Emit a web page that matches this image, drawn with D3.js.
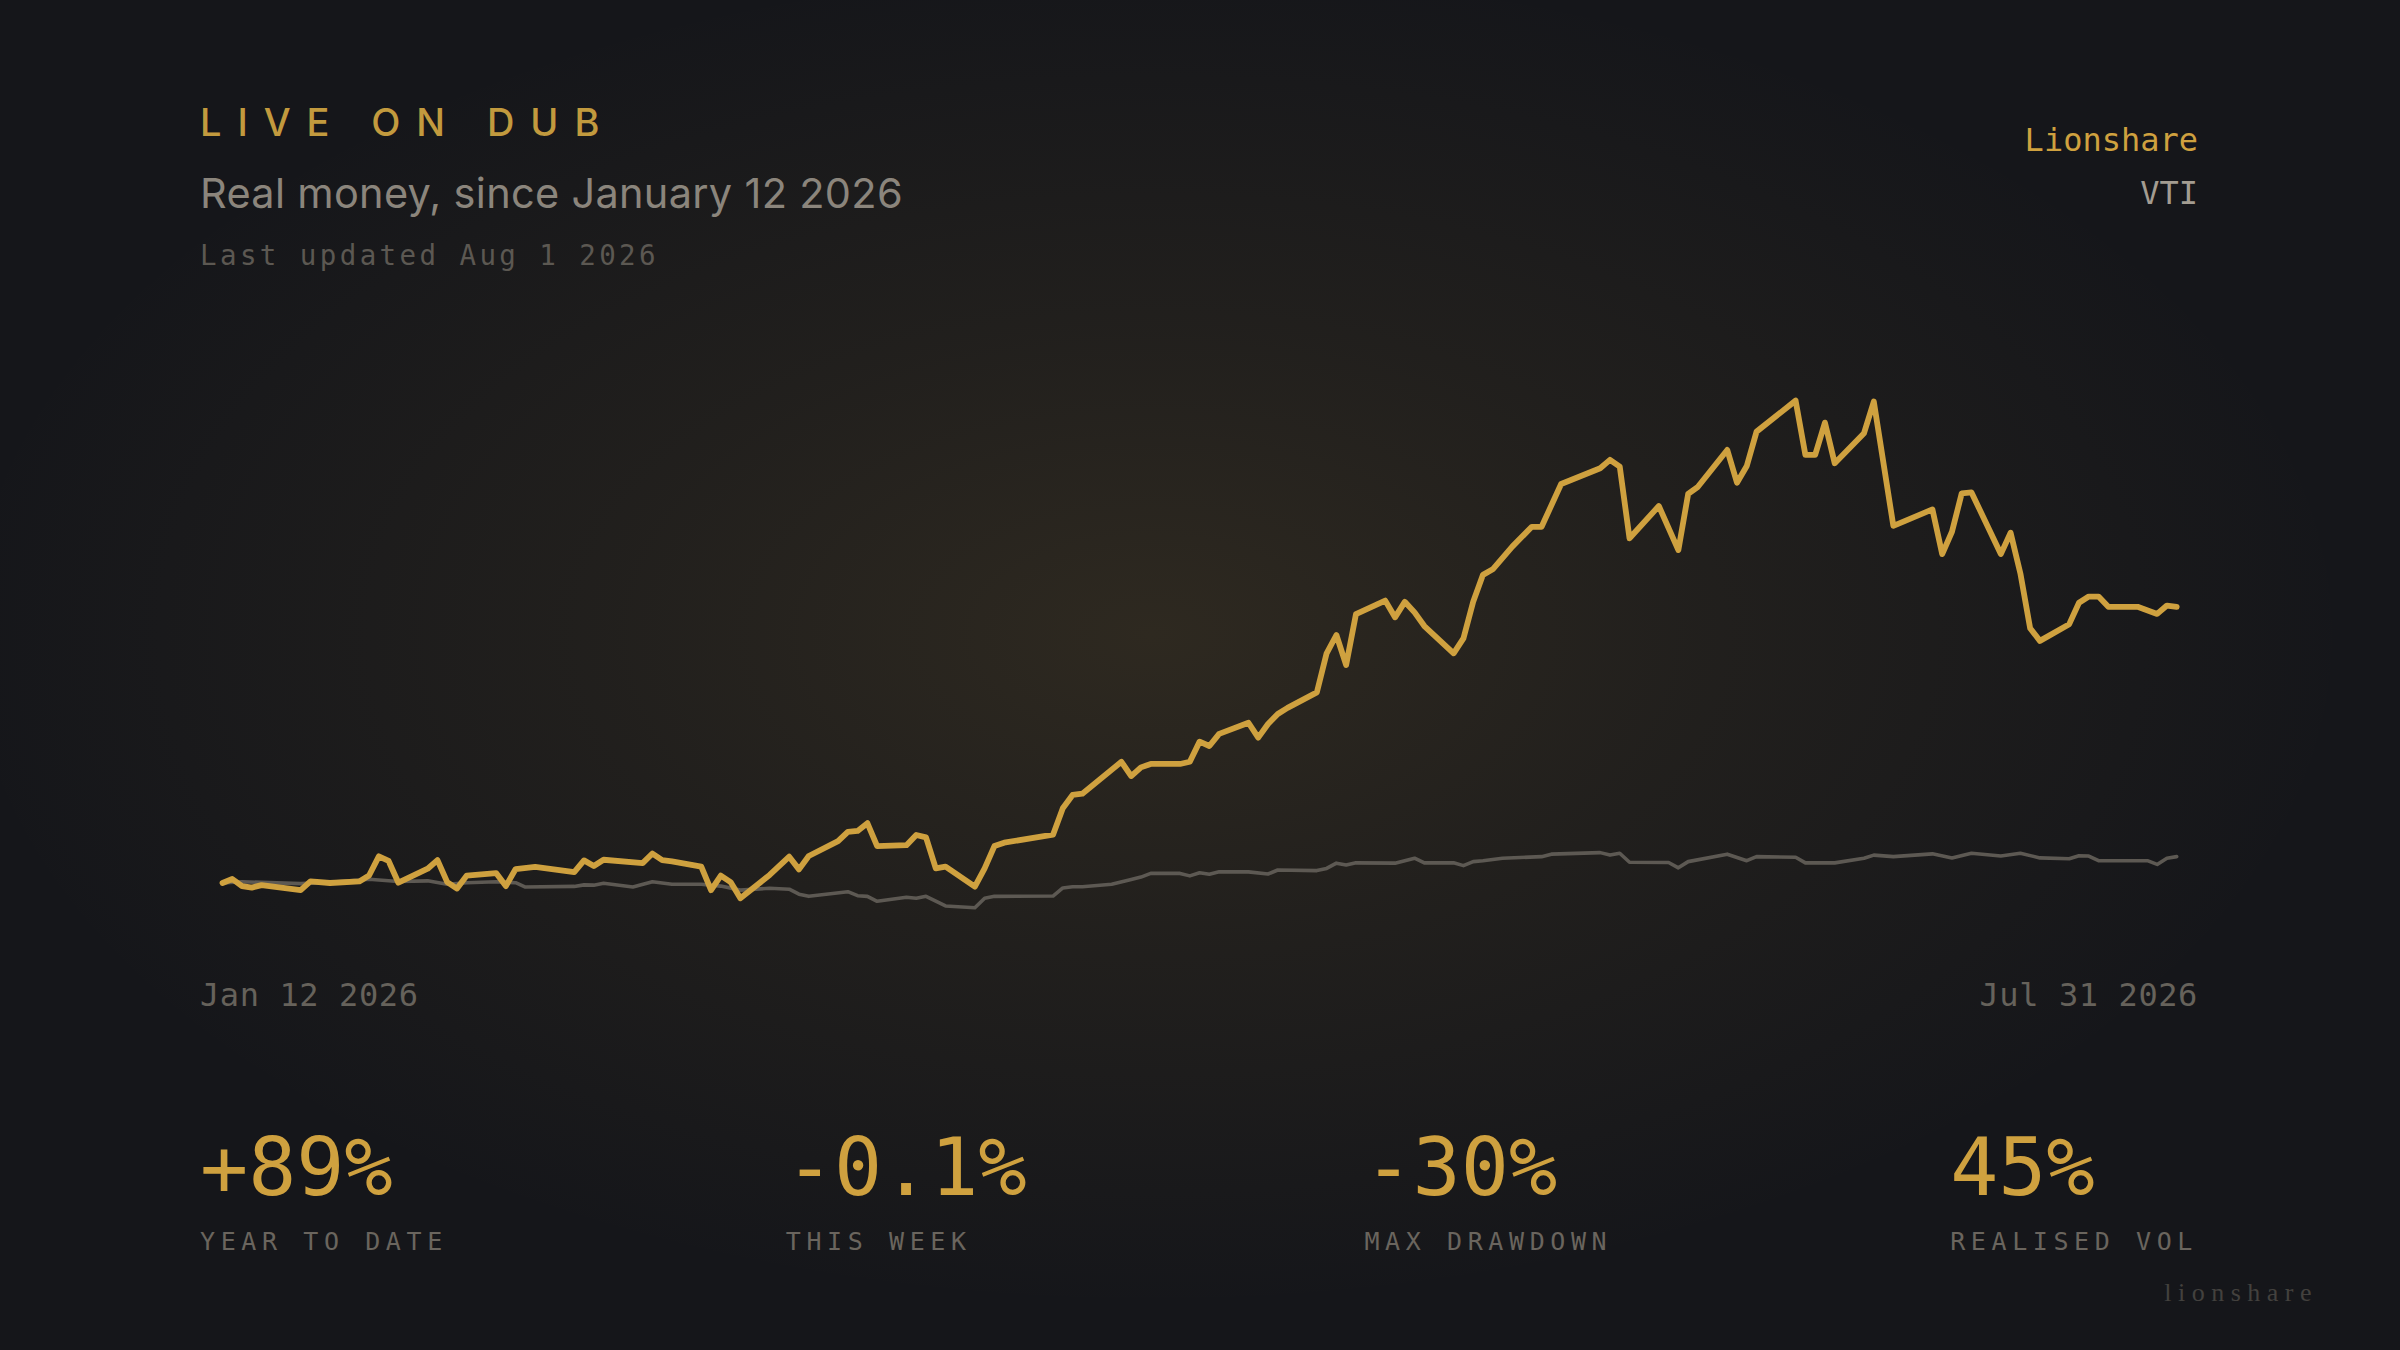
<!DOCTYPE html>
<html>
<head>
<meta charset="utf-8">
<script src="https://cdn.jsdelivr.net/npm/d3@7"></script>
<style>
  html, body { margin: 0; padding: 0; background: #15161a; }
  svg { display: block; }
</style>
</head>
<body>
<svg id="chart" width="2400" height="1350"></svg>
<script>
// ---------- DATA ----------
// [days since Jan 12 2026, cumulative return %]
const lionshare = [[0,0],[1,1.3],[2,-1.0],[3,-1.5],[4,-0.7],[8,-2.3],[9,0.5],[11,0],[14,0.5],[15,2.4],[16,8.6],[17,7.1],[18,0.1],[21,4.6],[22,7.4],[23,0.3],[24,-1.8],[25,2.4],[28,3.2],[29,-1.0],[30,4.5],[32,5.2],[36,3.5],[37,7.3],[38,5.5],[39,7.5],[43,6.4],[44,9.5],[45,7.4],[46,7.0],[49,5.3],[50,-2.3],[51,2.4],[52,0.3],[53,-4.9],[56,2.6],[58,8.5],[59,4.4],[60,8.7],[63,13.5],[64,16.5],[65,16.8],[66,19.3],[67,11.9],[70,12.2],[71,15.5],[72,14.7],[73,4.7],[74,5.3],[77,-1.2],[78,4.7],[79,11.9],[80,13.0],[85,15.6],[86,24.1],[87,28.4],[88,28.8],[92,39.1],[93,34.5],[94,37.3],[95,38.4],[98,38.4],[99,39.1],[100,45.6],[101,44.2],[102,48.1],[105,51.7],[106,46.9],[107,51.3],[108,54.5],[109,56.5],[112,61.5],[113,74.1],[114,80.0],[115,70.3],[116,86.7],[119,91.1],[120,85.7],[121,90.7],[122,87.3],[123,82.9],[126,74.1],[127,78.9],[128,90.7],[129,99.4],[130,101.2],[132,108.5],[134,114.9],[135,114.9],[137,128.7],[141,133.8],[142,136.5],[143,134.3],[144,111.2],[147,121.6],[149,107.4],[150,125.5],[151,127.8],[154,139.7],[155,129.1],[156,134.5],[157,145.6],[161,155.6],[162,138.1],[163,138.1],[164,148.5],[165,135.4],[168,145.1],[169,155.3],[171,115.2],[175,120.5],[176,106.1],[177,113.3],[178,125.7],[179,126.0],[182,106.1],[183,113.0],[184,99.9],[185,82.2],[186,78.1],[189,83.5],[190,90.4],[191,92.4],[192,92.4],[193,89.1],[196,89.1],[198,86.8],[199,89.5],[200,89.1]];

const vti = [[0,0],[2,0.4],[4,0.2],[8,-0.2],[11,0.2],[15,1.2],[18,0.5],[21,0.7],[23,-0.4],[25,0.1],[28,0.4],[30,0.1],[31,-1.3],[36,-1.1],[37,-0.6],[38,-0.7],[39,-0.1],[42,-1.3],[44,0.4],[46,-0.4],[49,-0.4],[51,-1.0],[53,-2.3],[56,-1.7],[58,-2.0],[59,-3.6],[60,-4.3],[64,-2.8],[65,-4.1],[66,-4.3],[67,-5.9],[70,-4.6],[71,-4.9],[72,-4.3],[74,-7.4],[77,-8.0],[78,-4.9],[79,-4.3],[85,-4.2],[86,-1.6],[87,-1.2],[88,-1.2],[91,-0.4],[93,1.1],[94,1.9],[95,3.1],[98,3.1],[99,2.3],[100,3.3],[101,2.8],[102,3.6],[105,3.6],[107,2.9],[108,4.2],[112,4.0],[113,4.7],[114,6.4],[115,5.8],[116,6.5],[120,6.4],[121,7.2],[122,8.0],[123,6.5],[126,6.5],[127,5.6],[128,6.9],[129,7.2],[131,8.0],[135,8.5],[136,9.3],[141,9.8],[142,9.0],[143,9.6],[144,6.7],[148,6.6],[149,4.9],[150,6.9],[154,9.3],[156,7.2],[157,8.5],[161,8.3],[162,6.5],[165,6.5],[168,8.0],[169,9.0],[171,8.5],[175,9.4],[177,8.1],[179,9.6],[182,8.7],[184,9.6],[186,8.1],[189,7.8],[190,8.8],[191,8.7],[192,7.2],[197,7.2],[198,6.0],[199,8.0],[200,8.5]];

const startDate = Date.UTC(2026, 0, 12);
const endDate = Date.UTC(2026, 6, 31);
const seriesNames = ["Lionshare", "VTI"];
const statValues = ["+89%", "-0.1%", "-30%", "45%"];
const statLabels = ["YEAR TO DATE", "THIS WEEK", "MAX DRAWDOWN", "REALISED VOL"];
const kicker = "LIVE ON DUB";
const title = "Real money, since January 12 2026";
const updated = "Last updated Aug 1 2026";
const watermark = "lionshare";

// ---------- STYLE ----------
const W = 2400, H = 1350;
const GOLD = "#cfa13f";
const MONO = "'DejaVu Sans Mono', 'Liberation Mono', monospace";
const SANS = "Inter, 'Noto Sans', sans-serif";
const left = 200, right = 2198;

const svg = d3.select("#chart").attr("viewBox", `0 0 ${W} ${H}`);
const defs = svg.append("defs");
const glow = defs.append("radialGradient").attr("id", "glow")
  .attr("cx", 0.48).attr("cy", 0.47).attr("r", 0.5);
glow.append("stop").attr("offset", "0%").attr("stop-color", "rgb(200,158,70)").attr("stop-opacity", 0.14);
glow.append("stop").attr("offset", "45%").attr("stop-color", "rgb(200,158,70)").attr("stop-opacity", 0.07);
glow.append("stop").attr("offset", "100%").attr("stop-color", "rgb(200,158,70)").attr("stop-opacity", 0);

svg.append("rect").attr("width", W).attr("height", H).attr("fill", "#15161a");
svg.append("rect").attr("width", W).attr("height", H).attr("fill", "url(#glow)");

// ---------- SCALES ----------
const x = d3.scaleUtc().domain([startDate, endDate]).range([222.5, 2176.7]);
const y = d3.scaleLinear().domain([-10, 160]).range([914, 387]);
const toDate = d => new Date(startDate + d * 86400000);

const line = d3.line()
  .x(d => x(toDate(d[0])))
  .y(d => y(d[1]));

svg.append("path").datum(vti)
  .attr("d", line).attr("fill", "none")
  .attr("stroke", "#5d5953").attr("stroke-width", 3.6)
  .attr("stroke-linejoin", "round").attr("stroke-linecap", "round");

svg.append("path").datum(lionshare)
  .attr("d", line).attr("fill", "none")
  .attr("stroke", GOLD).attr("stroke-width", 5.8)
  .attr("stroke-linejoin", "round").attr("stroke-linecap", "round");

// ---------- HEADER ----------
svg.append("text").text(kicker)
  .attr("x", left).attr("y", 136)
  .attr("font-family", SANS).attr("font-weight", 500).attr("font-size", 38)
  .attr("letter-spacing", 15.9).attr("fill", "#c29a3e");

svg.append("text").text(title)
  .attr("x", left).attr("y", 208)
  .attr("font-family", SANS).attr("font-size", 41.5)
  .attr("letter-spacing", 0.3)
  .attr("fill", "#8b857c");

svg.append("text").text(updated)
  .attr("x", left).attr("y", 265)
  .attr("font-family", MONO).attr("font-size", 27.5)
  .attr("letter-spacing", 3.4).attr("fill", "#5c5852");

// legend
const legendColors = [GOLD, "#a39c91"];
svg.selectAll(".legend").data(seriesNames).enter().append("text")
  .attr("class", "legend")
  .text(d => d)
  .attr("x", right).attr("y", (d, i) => 151 + i * 53)
  .attr("text-anchor", "end")
  .attr("font-family", MONO).attr("font-size", 32)
  .attr("fill", (d, i) => legendColors[i]);

// ---------- X AXIS LABELS ----------
const fmt = d3.utcFormat("%b %-d %Y");
const xDomain = x.domain();
svg.selectAll(".xlab").data(xDomain).enter().append("text")
  .attr("class", "xlab")
  .text(d => fmt(d))
  .attr("x", (d, i) => i === 0 ? left : right)
  .attr("y", 1006)
  .attr("text-anchor", (d, i) => i === 0 ? "start" : "end")
  .attr("font-family", MONO).attr("font-size", 32)
  .attr("letter-spacing", 0.6)
  .attr("fill", "#66625b");

// ---------- STATS ----------
const stats = svg.selectAll(".stat").data(statValues.map((v, i) => ({ v, l: statLabels[i] })))
  .enter().append("g").attr("class", "stat");
stats.append("text").text(d => d.v)
  .attr("y", 1195)
  .attr("font-family", MONO).attr("font-size", 80)
  .attr("fill", GOLD);
stats.append("text").text(d => d.l)
  .attr("y", 1250)
  .attr("font-family", MONO).attr("font-size", 25)
  .attr("letter-spacing", 5.6)
  .attr("fill", "#6a655e");

const widths = [];
stats.each(function () {
  const ts = d3.select(this).selectAll("text").nodes();
  const w = d3.max(ts, t => t.getComputedTextLength());
  widths.push(w);
});
const gap = (right - left - d3.sum(widths)) / (widths.length - 1);
let cx = left;
stats.each(function (d, i) {
  d3.select(this).attr("transform", `translate(${cx},0)`);
  cx += widths[i] + gap;
});

// ---------- WATERMARK ----------
svg.append("text").text(watermark)
  .attr("x", 2318).attr("y", 1301)
  .attr("text-anchor", "end")
  .attr("font-family", "'Liberation Serif', 'DejaVu Serif', serif")
  .attr("font-size", 26).attr("letter-spacing", 6.5)
  .attr("fill", "#43413e");
</script>
</body>
</html>
